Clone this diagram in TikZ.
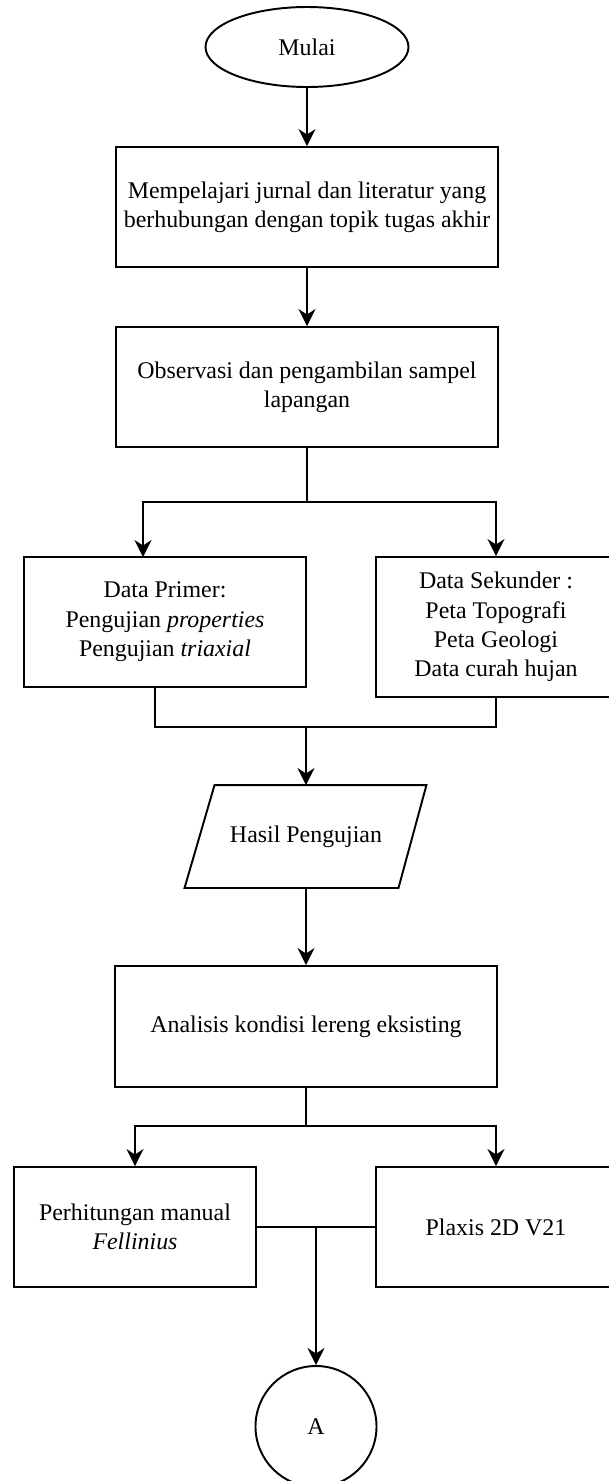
\documentclass[tikz,border=0pt]{standalone}
\usepackage{fontspec}
\setmainfont{Liberation Serif}
\usetikzlibrary{arrows.meta,shapes.geometric}

\begin{document}
\begin{tikzpicture}[x=0.2mm,y=-0.2mm,line width=1.1pt,
	font=\fontsize{13.6}{16.7}\selectfont,
	kotak/.style={draw,rectangle,align=center,inner sep=2pt},
	panah/.style={-{Stealth[length=3.4mm,width=3.4mm,inset=1.1mm]}}]
\useasboundingbox (0,0) rectangle (608,1481);
\node[draw,ellipse,minimum width=40.6mm,minimum height=16mm] (mulai) at (307,47){Mulai};
\node[kotak,minimum width=76.4mm,minimum height=24mm] (jurnal) at (307,207){Mempelajari jurnal dan literatur yang\\berhubungan dengan topik tugas akhir};
\node[kotak,minimum width=76.4mm,minimum height=24mm] (observasi) at (307,387){Observasi dan pengambilan sampel\\lapangan};
\node[kotak,minimum width=56.4mm,minimum height=26mm] (primer) at (165,622){Data Primer:\\Pengujian \textit{properties}\\Pengujian \textit{triaxial}};
\node[kotak,minimum width=48mm,minimum height=28mm] (sekunder) at (496,627){Data Sekunder :\\Peta Topografi\\Peta Geologi\\Data curah hujan};
\node[rectangle,minimum width=42.2mm,minimum height=20.2mm] (hasil) at (306,836.5){Hasil Pengujian};
\draw ([xshift=-3mm]hasil.south west) -- ([xshift=3mm]hasil.north west) -- ([xshift=2.8mm]hasil.north east) -- ([xshift=-2.8mm]hasil.south east) -- cycle;
\node[kotak,minimum width=76.4mm,minimum height=24.2mm] (analisis) at (306,1026.5){Analisis kondisi lereng eksisting};
\node[kotak,minimum width=48.4mm,minimum height=24mm] (manual) at (135,1227){Perhitungan manual\\\textit{Fellinius}};
\node[kotak,minimum width=48mm,minimum height=24mm] (plaxis) at (496,1227){Plaxis 2D V21};
\node[draw,circle,minimum size=24.2mm] (A) at (316,1426.5){A};

\coordinate (c1) at (307,502);
\coordinate (t1) at (143,557);
\coordinate (g1) at (155,727);
\coordinate (g2) at (496,727);
\coordinate (g0) at (306,727);
\coordinate (c2) at (306,1126);
\coordinate (t3) at (316,1227);

\draw[panah] (mulai) -- (jurnal);
\draw[panah] (jurnal) -- (observasi);
\draw (observasi.south) -- (c1);
\draw[panah] (c1) -| (t1);
\draw[panah] (c1) -| (sekunder.north);
\draw (primer.south -| g1) -- (g1) -- (g2) -- (sekunder.south);
\draw[panah] (g0) -- (g0 |- hasil.north);
\draw[panah] (hasil.south -| analisis.north) -- (analisis.north);
\draw (analisis.south) -- (c2);
\draw[panah] (c2) -| (manual.north);
\draw[panah] (c2) -| (plaxis.north);
\draw (manual.east) -- (plaxis.west);
\draw[panah] (t3) -- (A.north);
\end{tikzpicture}
\end{document}
